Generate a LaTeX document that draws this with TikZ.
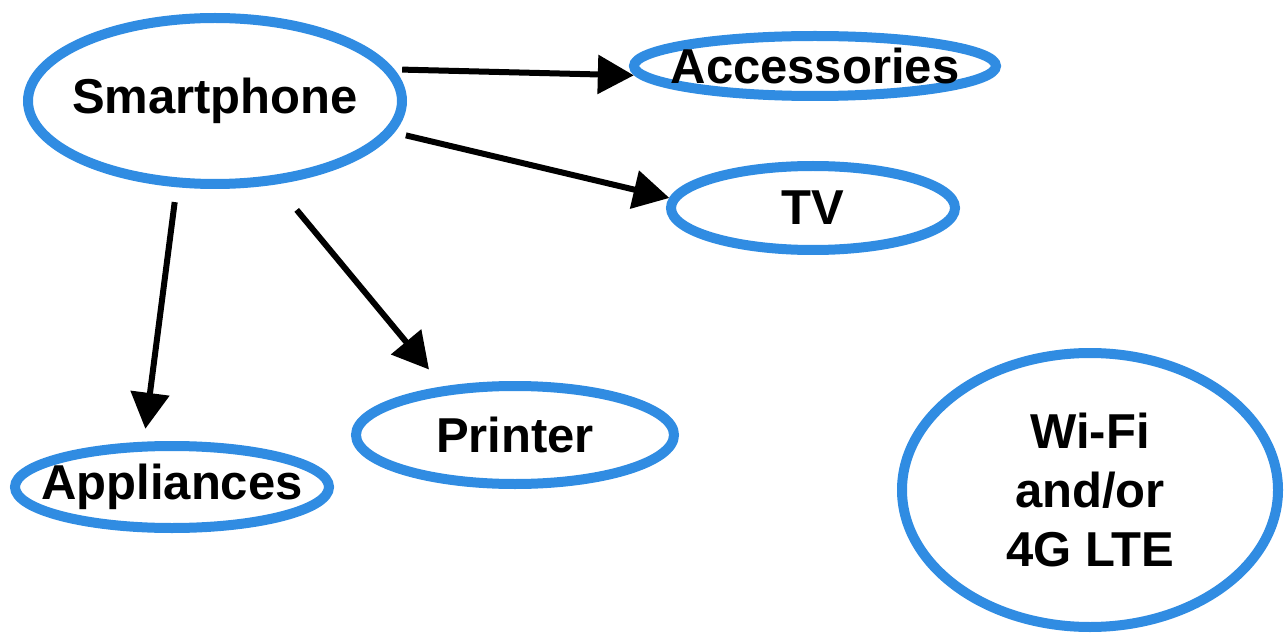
\documentclass[tikz,border=0pt]{standalone}
\usepackage{fontspec}
\setmainfont{Liberation Sans}
\usetikzlibrary{shapes.geometric,arrows.meta}
\definecolor{bubblue}{RGB}{48,140,226}
\tikzset{
  bub/.style={ellipse, draw=bubblue, line width=10pt, inner sep=0pt, fill=white,
    font=\fontsize{49}{59}\selectfont\bfseries, text=black},
  arr/.style={line width=6pt, draw=black, -{Triangle[length=36pt,width=38pt]}}
}
\newcommand{\zb}[1]{\makebox[0pt][c]{#1}}
\begin{document}
\begin{tikzpicture}[x=1pt,y=-1pt]
\useasboundingbox (0,0) rectangle (1287,636);
\node[bub, minimum width=374pt, minimum height=166pt] (sp) at (215,101) {\zb{Smartphone}};
\node[bub, minimum width=362pt, minimum height=60pt] (acc) at (815,66) {\zb{Accessories}};
\node[bub, minimum width=284pt, minimum height=84pt] (tv) at (813,208) {\zb{TV}};
\node[bub, minimum width=318pt, minimum height=98pt] (pr) at (515,435) {\zb{Printer}};
\node[bub, minimum width=314pt, minimum height=82pt] (ap) at (172,487) {\zb{Appliances}};
\node[bub, minimum width=376pt, minimum height=274pt, align=center] (wifi) at (1090,490) {\zb{Wi-Fi}\\\zb{and/or}\\\zb{4G LTE}};
\draw[arr, shorten <=8pt, shorten >=2pt] (sp.10) -- (acc.183);
\draw[arr, shorten <=12pt, shorten >=0pt] (sp.-10) -- (tv.176);
\draw[arr, shorten <=15pt, shorten >=13pt] (sp.-114) -- (ap.122);
\draw[arr, shorten <=33pt, shorten >=22pt] (sp.-54) -- (pr.146);
\end{tikzpicture}
\end{document}
